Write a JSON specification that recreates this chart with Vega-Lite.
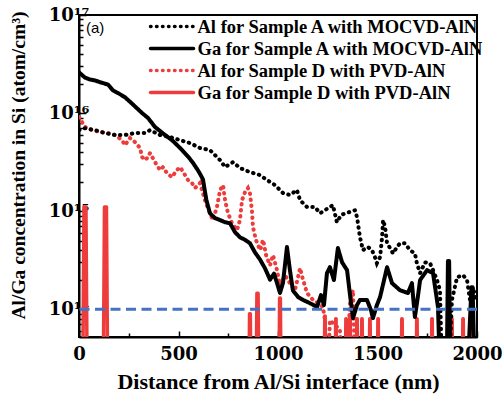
{
  "$schema": "https://vega.github.io/schema/vega-lite/v6.json",
  "width": 398,
  "height": 322,
  "autosize": {"type": "none"},
  "padding": {"left": 79, "top": 15, "right": 26, "bottom": 62},
  "background": "white",
  "config": {
    "view": {"stroke": "black", "strokeWidth": 2},
    "font": "Liberation Serif",
    "axis": {"grid": false, "domainColor": "black", "domainWidth": 2, "tickColor": "black", "tickWidth": 1.5, "labelColor": "black", "titleColor": "black", "labelFlush": false, "labelOverlap": false},
    "legend": {"title": null, "orient": "none", "legendX": 69.5, "legendY": -1, "padding": 0, "symbolType": "M-1,0H3.1", "symbolSize": 441, "symbolStrokeWidth": 3.5,
      "labelFont": "Liberation Serif", "labelFontSize": 18.5, "labelFontWeight": "bold", "labelColor": "black", "labelOffset": 24, "rowPadding": 0, "labelLimit": 0}
  },
  "datasets": {
    "profiles": [
      {"s": "AlA", "nm": 0, "c": 6.7e15}, {"s": "AlA", "nm": 30, "c": 7.0e15}, {"s": "AlA", "nm": 80, "c": 6.7e15}, {"s": "AlA", "nm": 131, "c": 6.25e15}, {"s": "AlA", "nm": 181, "c": 5.97e15}, {"s": "AlA", "nm": 231, "c": 5.97e15}, {"s": "AlA", "nm": 281, "c": 6.25e15}, {"s": "AlA", "nm": 332, "c": 6.25e15}, {"s": "AlA", "nm": 357, "c": 6.7e15}, {"s": "AlA", "nm": 407, "c": 5.97e15}, {"s": "AlA", "nm": 457, "c": 5.7e15}, {"s": "AlA", "nm": 508, "c": 5.3e15}, {"s": "AlA", "nm": 558, "c": 4.94e15}, {"s": "AlA", "nm": 608, "c": 4.4e15}, {"s": "AlA", "nm": 658, "c": 4.19e15}, {"s": "AlA", "nm": 709, "c": 3.31e15}, {"s": "AlA", "nm": 734, "c": 2.81e15}, {"s": "AlA", "nm": 774, "c": 3.16e15}, {"s": "AlA", "nm": 809, "c": 2.75e15}, {"s": "AlA", "nm": 859, "c": 2.5e15}, {"s": "AlA", "nm": 910, "c": 2.33e15}, {"s": "AlA", "nm": 945, "c": 2.07e15}, {"s": "AlA", "nm": 985, "c": 1.84e15}, {"s": "AlA", "nm": 1025, "c": 1.53e15}, {"s": "AlA", "nm": 1060, "c": 1.46e15}, {"s": "AlA", "nm": 1095, "c": 1.64e15}, {"s": "AlA", "nm": 1111, "c": 1.29e15}, {"s": "AlA", "nm": 1146, "c": 1.10e15}, {"s": "AlA", "nm": 1186, "c": 1.10e15}, {"s": "AlA", "nm": 1211, "c": 9.5e14}, {"s": "AlA", "nm": 1261, "c": 1.10e15}, {"s": "AlA", "nm": 1276, "c": 1.15e15}, {"s": "AlA", "nm": 1296, "c": 7.7e14}, {"s": "AlA", "nm": 1317, "c": 9.1e14}, {"s": "AlA", "nm": 1337, "c": 9.5e14}, {"s": "AlA", "nm": 1362, "c": 9.8e14}, {"s": "AlA", "nm": 1387, "c": 1.02e15}, {"s": "AlA", "nm": 1397, "c": 8.7e14}, {"s": "AlA", "nm": 1412, "c": 5.4e14}, {"s": "AlA", "nm": 1427, "c": 4.0e14}, {"s": "AlA", "nm": 1452, "c": 4.3e14}, {"s": "AlA", "nm": 1472, "c": 4.0e14}, {"s": "AlA", "nm": 1487, "c": 3.4e14}, {"s": "AlA", "nm": 1497, "c": 2.94e14}, {"s": "AlA", "nm": 1513, "c": 3.4e14}, {"s": "AlA", "nm": 1523, "c": 5.4e14}, {"s": "AlA", "nm": 1528, "c": 8.1e14}, {"s": "AlA", "nm": 1538, "c": 6.9e14}, {"s": "AlA", "nm": 1548, "c": 4.7e14}, {"s": "AlA", "nm": 1563, "c": 4.2e14}, {"s": "AlA", "nm": 1578, "c": 3.7e14}, {"s": "AlA", "nm": 1598, "c": 4.3e14}, {"s": "AlA", "nm": 1613, "c": 4.7e14}, {"s": "AlA", "nm": 1638, "c": 4.7e14}, {"s": "AlA", "nm": 1663, "c": 4.0e14}, {"s": "AlA", "nm": 1688, "c": 3.7e14}, {"s": "AlA", "nm": 1698, "c": 2.94e14}, {"s": "AlA", "nm": 1714, "c": 2.33e14}, {"s": "AlA", "nm": 1739, "c": 3.0e14}, {"s": "AlA", "nm": 1764, "c": 2.94e14}, {"s": "AlA", "nm": 1779, "c": 2.5e14}, {"s": "AlA", "nm": 1799, "c": 1.98e14}, {"s": "AlA", "nm": 1814, "c": 1.56e14}, {"s": "AlA", "nm": 1829, "c": 1e13}, {"s": "AlA", "nm": 1854, "c": 1e13}, {"s": "AlA", "nm": 1874, "c": 1.24e14}, {"s": "AlA", "nm": 1900, "c": 2.12e14}, {"s": "AlA", "nm": 1930, "c": 2.22e14}, {"s": "AlA", "nm": 1950, "c": 1.98e14}, {"s": "AlA", "nm": 1965, "c": 1.24e14}, {"s": "AlA", "nm": 1980, "c": 1.67e14}, {"s": "AlA", "nm": 1995, "c": 1.24e14},

      {"s": "GaA", "nm": 0, "c": 2.6e16}, {"s": "GaA", "nm": 30, "c": 2.3e16}, {"s": "GaA", "nm": 55, "c": 2.2e16}, {"s": "GaA", "nm": 80, "c": 2.15e16}, {"s": "GaA", "nm": 110, "c": 2.05e16}, {"s": "GaA", "nm": 146, "c": 1.95e16}, {"s": "GaA", "nm": 171, "c": 1.7e16}, {"s": "GaA", "nm": 196, "c": 1.6e16}, {"s": "GaA", "nm": 231, "c": 1.45e16}, {"s": "GaA", "nm": 266, "c": 1.25e16}, {"s": "GaA", "nm": 291, "c": 1.12e16}, {"s": "GaA", "nm": 317, "c": 1.0e16}, {"s": "GaA", "nm": 347, "c": 8.9e15}, {"s": "GaA", "nm": 382, "c": 7.2e15}, {"s": "GaA", "nm": 422, "c": 6.2e15}, {"s": "GaA", "nm": 467, "c": 5.3e15}, {"s": "GaA", "nm": 508, "c": 4.4e15}, {"s": "GaA", "nm": 548, "c": 3.6e15}, {"s": "GaA", "nm": 573, "c": 3.1e15}, {"s": "GaA", "nm": 598, "c": 2.6e15}, {"s": "GaA", "nm": 613, "c": 2.3e15}, {"s": "GaA", "nm": 623, "c": 2.1e15}, {"s": "GaA", "nm": 640, "c": 1.3e15}, {"s": "GaA", "nm": 658, "c": 9.5e14}, {"s": "GaA", "nm": 683, "c": 8.5e14}, {"s": "GaA", "nm": 709, "c": 8.1e14}, {"s": "GaA", "nm": 734, "c": 7.7e14}, {"s": "GaA", "nm": 759, "c": 7.5e14}, {"s": "GaA", "nm": 784, "c": 6.1e14}, {"s": "GaA", "nm": 809, "c": 5.4e14}, {"s": "GaA", "nm": 834, "c": 5.1e14}, {"s": "GaA", "nm": 859, "c": 4.7e14}, {"s": "GaA", "nm": 884, "c": 3.8e14}, {"s": "GaA", "nm": 910, "c": 3.2e14}, {"s": "GaA", "nm": 935, "c": 2.6e14}, {"s": "GaA", "nm": 960, "c": 2.0e14}, {"s": "GaA", "nm": 980, "c": 2.3e14}, {"s": "GaA", "nm": 995, "c": 1.85e14}, {"s": "GaA", "nm": 1010, "c": 1.46e14}, {"s": "GaA", "nm": 1025, "c": 1.85e14}, {"s": "GaA", "nm": 1045, "c": 4.3e14}, {"s": "GaA", "nm": 1060, "c": 2.5e14}, {"s": "GaA", "nm": 1075, "c": 1.55e14}, {"s": "GaA", "nm": 1101, "c": 1.33e14}, {"s": "GaA", "nm": 1126, "c": 1.24e14}, {"s": "GaA", "nm": 1161, "c": 1.15e14}, {"s": "GaA", "nm": 1196, "c": 1.05e14}, {"s": "GaA", "nm": 1216, "c": 1.39e14}, {"s": "GaA", "nm": 1231, "c": 1.10e14}, {"s": "GaA", "nm": 1246, "c": 2.33e14}, {"s": "GaA", "nm": 1261, "c": 2.68e14}, {"s": "GaA", "nm": 1281, "c": 1.98e14}, {"s": "GaA", "nm": 1301, "c": 4.2e14}, {"s": "GaA", "nm": 1322, "c": 3.0e14}, {"s": "GaA", "nm": 1347, "c": 2.5e14}, {"s": "GaA", "nm": 1362, "c": 1.39e14}, {"s": "GaA", "nm": 1377, "c": 8.1e13}, {"s": "GaA", "nm": 1397, "c": 1.10e14}, {"s": "GaA", "nm": 1412, "c": 1.24e14}, {"s": "GaA", "nm": 1447, "c": 1.24e14}, {"s": "GaA", "nm": 1467, "c": 9.8e13}, {"s": "GaA", "nm": 1477, "c": 8.1e13}, {"s": "GaA", "nm": 1497, "c": 1.10e14}, {"s": "GaA", "nm": 1513, "c": 1.33e14}, {"s": "GaA", "nm": 1533, "c": 1.98e14}, {"s": "GaA", "nm": 1548, "c": 2.68e14}, {"s": "GaA", "nm": 1573, "c": 1.84e14}, {"s": "GaA", "nm": 1613, "c": 1.56e14}, {"s": "GaA", "nm": 1653, "c": 1.46e14}, {"s": "GaA", "nm": 1673, "c": 1.84e14}, {"s": "GaA", "nm": 1688, "c": 8.3e13}, {"s": "GaA", "nm": 1704, "c": 1.39e14}, {"s": "GaA", "nm": 1714, "c": 1.98e14}, {"s": "GaA", "nm": 1749, "c": 2.5e14}, {"s": "GaA", "nm": 1779, "c": 2.33e14}, {"s": "GaA", "nm": 1804, "c": 1.05e14}, {"s": "GaA", "nm": 1819, "c": 1e13}, {"s": "GaA", "nm": 1846, "c": 1e13}, {"s": "GaA", "nm": 1854, "c": 3.1e14}, {"s": "GaA", "nm": 1860, "c": 3.1e14}, {"s": "GaA", "nm": 1868, "c": 1e13}, {"s": "GaA", "nm": 1945, "c": 1e13}, {"s": "GaA", "nm": 1972, "c": 1.67e14}, {"s": "GaA", "nm": 1978, "c": 1.67e14}, {"s": "GaA", "nm": 1992, "c": 1e13},

      {"s": "AlD", "nm": 0, "c": 9.1e15}, {"s": "AlD", "nm": 30, "c": 7.2e15}, {"s": "AlD", "nm": 65, "c": 6.7e15}, {"s": "AlD", "nm": 106, "c": 6.4e15}, {"s": "AlD", "nm": 146, "c": 6.25e15}, {"s": "AlD", "nm": 181, "c": 5.97e15}, {"s": "AlD", "nm": 216, "c": 5.3e15}, {"s": "AlD", "nm": 231, "c": 4.7e15}, {"s": "AlD", "nm": 256, "c": 5.56e15}, {"s": "AlD", "nm": 281, "c": 5.06e15}, {"s": "AlD", "nm": 307, "c": 4.4e15}, {"s": "AlD", "nm": 317, "c": 3.56e15}, {"s": "AlD", "nm": 332, "c": 3.31e15}, {"s": "AlD", "nm": 347, "c": 3.56e15}, {"s": "AlD", "nm": 357, "c": 3.91e15}, {"s": "AlD", "nm": 382, "c": 3.16e15}, {"s": "AlD", "nm": 407, "c": 2.62e15}, {"s": "AlD", "nm": 422, "c": 2.81e15}, {"s": "AlD", "nm": 442, "c": 2.44e15}, {"s": "AlD", "nm": 467, "c": 2.22e15}, {"s": "AlD", "nm": 492, "c": 2.62e15}, {"s": "AlD", "nm": 508, "c": 2.81e15}, {"s": "AlD", "nm": 533, "c": 2.33e15}, {"s": "AlD", "nm": 548, "c": 2.07e15}, {"s": "AlD", "nm": 568, "c": 1.93e15}, {"s": "AlD", "nm": 583, "c": 1.72e15}, {"s": "AlD", "nm": 608, "c": 1.93e15}, {"s": "AlD", "nm": 633, "c": 1.29e15}, {"s": "AlD", "nm": 658, "c": 9.5e14}, {"s": "AlD", "nm": 673, "c": 8.1e14}, {"s": "AlD", "nm": 693, "c": 1.10e15}, {"s": "AlD", "nm": 709, "c": 1.64e15}, {"s": "AlD", "nm": 724, "c": 1.84e15}, {"s": "AlD", "nm": 734, "c": 1.29e15}, {"s": "AlD", "nm": 749, "c": 9.5e14}, {"s": "AlD", "nm": 769, "c": 7.5e14}, {"s": "AlD", "nm": 794, "c": 6.4e14}, {"s": "AlD", "nm": 809, "c": 8.1e14}, {"s": "AlD", "nm": 819, "c": 1.29e15}, {"s": "AlD", "nm": 834, "c": 1.56e15}, {"s": "AlD", "nm": 849, "c": 1.72e15}, {"s": "AlD", "nm": 859, "c": 1.53e15}, {"s": "AlD", "nm": 869, "c": 1.02e15}, {"s": "AlD", "nm": 874, "c": 6.9e14}, {"s": "AlD", "nm": 889, "c": 5.1e14}, {"s": "AlD", "nm": 910, "c": 4.0e14}, {"s": "AlD", "nm": 925, "c": 5.1e14}, {"s": "AlD", "nm": 940, "c": 3.56e14}, {"s": "AlD", "nm": 960, "c": 2.8e14}, {"s": "AlD", "nm": 975, "c": 3.56e14}, {"s": "AlD", "nm": 995, "c": 2.5e14}, {"s": "AlD", "nm": 1010, "c": 1.76e14}, {"s": "AlD", "nm": 1035, "c": 2.22e14}, {"s": "AlD", "nm": 1060, "c": 1.84e14}, {"s": "AlD", "nm": 1085, "c": 1.56e14}, {"s": "AlD", "nm": 1111, "c": 2.62e14}, {"s": "AlD", "nm": 1126, "c": 1.98e14}, {"s": "AlD", "nm": 1146, "c": 1.46e14}, {"s": "AlD", "nm": 1176, "c": 1.24e14}, {"s": "AlD", "nm": 1201, "c": 1.15e14}, {"s": "AlD", "nm": 1226, "c": 1.05e14}, {"s": "AlD", "nm": 1236, "c": 7.7e13}, {"s": "AlD", "nm": 1246, "c": 1e13}, {"s": "AlD", "nm": 1261, "c": 7.7e13}, {"s": "AlD", "nm": 1286, "c": 6.9e13}, {"s": "AlD", "nm": 1311, "c": 6.2e13}, {"s": "AlD", "nm": 1337, "c": 1e13}, {"s": "AlD", "nm": 1362, "c": 1.24e14}, {"s": "AlD", "nm": 1377, "c": 1.56e14}, {"s": "AlD", "nm": 1392, "c": 1e13}, {"s": "AlD", "nm": 2000, "c": 1e13},

      {"s": "GaD", "nm": 18, "c": 1e13}, {"s": "GaD", "nm": 25, "c": 1.1e15}, {"s": "GaD", "nm": 35, "c": 1.1e15}, {"s": "GaD", "nm": 42, "c": 1e13},
      {"s": "GaD", "nm": 121, "c": 1e13}, {"s": "GaD", "nm": 128, "c": 1.1e15}, {"s": "GaD", "nm": 138, "c": 1.1e15}, {"s": "GaD", "nm": 145, "c": 1e13},
      {"s": "GaD", "nm": 853, "c": 1e13}, {"s": "GaD", "nm": 857, "c": 9e13}, {"s": "GaD", "nm": 861, "c": 9e13}, {"s": "GaD", "nm": 865, "c": 1e13},
      {"s": "GaD", "nm": 889, "c": 1e13}, {"s": "GaD", "nm": 894, "c": 1.45e14}, {"s": "GaD", "nm": 900, "c": 1.45e14}, {"s": "GaD", "nm": 905, "c": 1e13},
      {"s": "GaD", "nm": 1004, "c": 1e13}, {"s": "GaD", "nm": 1008, "c": 1.3e14}, {"s": "GaD", "nm": 1012, "c": 1.3e14}, {"s": "GaD", "nm": 1016, "c": 1e13},
      {"s": "GaD", "nm": 1231, "c": 1e13}, {"s": "GaD", "nm": 1235, "c": 8.5e13}, {"s": "GaD", "nm": 1237, "c": 8.5e13}, {"s": "GaD", "nm": 1241, "c": 1e13},
      {"s": "GaD", "nm": 1286, "c": 1e13}, {"s": "GaD", "nm": 1290, "c": 8e13}, {"s": "GaD", "nm": 1292, "c": 8e13}, {"s": "GaD", "nm": 1296, "c": 1e13},
      {"s": "GaD", "nm": 1337, "c": 1e13}, {"s": "GaD", "nm": 1341, "c": 8e13}, {"s": "GaD", "nm": 1343, "c": 8e13}, {"s": "GaD", "nm": 1347, "c": 1e13},
      {"s": "GaD", "nm": 1357, "c": 1e13}, {"s": "GaD", "nm": 1361, "c": 8.8e13}, {"s": "GaD", "nm": 1363, "c": 8.8e13}, {"s": "GaD", "nm": 1367, "c": 1e13},
      {"s": "GaD", "nm": 1392, "c": 1e13}, {"s": "GaD", "nm": 1396, "c": 8e13}, {"s": "GaD", "nm": 1398, "c": 8e13}, {"s": "GaD", "nm": 1402, "c": 1e13},
      {"s": "GaD", "nm": 1417, "c": 1e13}, {"s": "GaD", "nm": 1421, "c": 8e13}, {"s": "GaD", "nm": 1423, "c": 8e13}, {"s": "GaD", "nm": 1427, "c": 1e13},
      {"s": "GaD", "nm": 1457, "c": 1e13}, {"s": "GaD", "nm": 1461, "c": 8e13}, {"s": "GaD", "nm": 1463, "c": 8e13}, {"s": "GaD", "nm": 1467, "c": 1e13},
      {"s": "GaD", "nm": 1498, "c": 1e13}, {"s": "GaD", "nm": 1502, "c": 8e13}, {"s": "GaD", "nm": 1504, "c": 8e13}, {"s": "GaD", "nm": 1508, "c": 1e13},
      {"s": "GaD", "nm": 1618, "c": 1e13}, {"s": "GaD", "nm": 1622, "c": 8e13}, {"s": "GaD", "nm": 1624, "c": 8e13}, {"s": "GaD", "nm": 1628, "c": 1e13},
      {"s": "GaD", "nm": 1693, "c": 1e13}, {"s": "GaD", "nm": 1697, "c": 8e13}, {"s": "GaD", "nm": 1699, "c": 8e13}, {"s": "GaD", "nm": 1703, "c": 1e13},
      {"s": "GaD", "nm": 1769, "c": 1e13}, {"s": "GaD", "nm": 1773, "c": 8e13}, {"s": "GaD", "nm": 1775, "c": 8e13}, {"s": "GaD", "nm": 1779, "c": 1e13},
      {"s": "GaD", "nm": 1869, "c": 1e13}, {"s": "GaD", "nm": 1873, "c": 8e13}, {"s": "GaD", "nm": 1875, "c": 8e13}, {"s": "GaD", "nm": 1879, "c": 1e13},
      {"s": "GaD", "nm": 1925, "c": 1e13}, {"s": "GaD", "nm": 1929, "c": 8e13}, {"s": "GaD", "nm": 1931, "c": 8e13}, {"s": "GaD", "nm": 1935, "c": 1e13},
      {"s": "GaD", "nm": 1960, "c": 1e13}, {"s": "GaD", "nm": 1964, "c": 8e13}, {"s": "GaD", "nm": 1966, "c": 8e13}, {"s": "GaD", "nm": 1970, "c": 1e13}
    ]
  },
  "layer": [
    {
      "data": {"name": "profiles"},
      "transform": [{"filter": "datum.s == 'AlD'"}],
      "mark": {"type": "line", "strokeWidth": 4, "strokeCap": "round", "clip": true},
      "encoding": {
        "x": {"field": "nm", "type": "quantitative", "scale": {"domain": [0, 2000], "nice": false},
          "axis": {"title": "Distance from Al/Si interface (nm)", "values": [0, 250, 500, 750, 1000, 1250, 1500, 1750, 2000], "format": "d",
            "labelExpr": "datum.value % 500 == 0 ? datum.label : ''",
            "labelFont": "DejaVu Serif", "labelFontSize": 18, "labelFontWeight": "bold", "labelPadding": 14,
            "tickSize": {"condition": {"test": "datum.value % 500 == 0", "value": -6}, "value": -4},
            "titleFont": "Liberation Serif", "titleFontSize": 22, "titleFontWeight": "bold", "titlePadding": 6}},
        "y": {"field": "c", "type": "quantitative", "scale": {"type": "log", "domain": [5.2e13, 1e17], "nice": false},
          "axis": {"title": "Al/Ga concentration in Si (atom/cm³)",
            "values": [6e13, 7e13, 8e13, 9e13, 1e14, 2e14, 3e14, 4e14, 5e14, 6e14, 7e14, 8e14, 9e14, 1e15, 2e15, 3e15, 4e15, 5e15, 6e15, 7e15, 8e15, 9e15, 1e16, 2e16, 3e16, 4e16, 5e16, 6e16, 7e16, 8e16, 9e16, 1e17],
            "labelExpr": "abs(log(datum.value)/LN10 - round(log(datum.value)/LN10)) < 0.001 ? '10' + (round(log(datum.value)/LN10) == 14 ? '¹⁴' : round(log(datum.value)/LN10) == 15 ? '¹⁵' : round(log(datum.value)/LN10) == 16 ? '¹⁶' : '¹⁷') : ''",
            "labelFont": "DejaVu Serif", "labelFontSize": 18, "labelFontWeight": "bold", "labelPadding": -3,
            "tickSize": {"condition": {"test": "abs(log(datum.value)/LN10 - round(log(datum.value)/LN10)) < 0.001", "value": -7}, "value": -4},
            "titleFont": "Liberation Serif", "titleFontSize": 19.5, "titleFontWeight": "bold", "titleX": -61, "titleY": 150, "titleBaseline": "middle", "titleAlign": "center"}},
        "color": {"field": "s", "type": "nominal",
          "scale": {"domain": ["AlA", "GaA", "AlD", "GaD"], "range": ["#000000", "#000000", "#ee3b3b", "#ee3b3b"]},
          "legend": {"encode": {"symbols": {"update": {"strokeCap": {"value": "round"}}}},
            "labelExpr": "datum.label == 'AlA' ? 'Al for Sample A with MOCVD-AlN' : datum.label == 'GaA' ? 'Ga for Sample A with MOCVD-AlN' : datum.label == 'AlD' ? 'Al for Sample D with PVD-AlN' : 'Ga for Sample D with PVD-AlN'"}},
        "strokeDash": {"field": "s", "type": "nominal",
          "scale": {"domain": ["AlA", "GaA", "AlD", "GaD"], "range": [[0.5, 5.5], [1, 0], [0.5, 5.5], [1, 0]]},
          "legend": {"encode": {"symbols": {"update": {"strokeCap": {"value": "round"}}}},
            "labelExpr": "datum.label == 'AlA' ? 'Al for Sample A with MOCVD-AlN' : datum.label == 'GaA' ? 'Ga for Sample A with MOCVD-AlN' : datum.label == 'AlD' ? 'Al for Sample D with PVD-AlN' : 'Ga for Sample D with PVD-AlN'"}}
      }
    },
    {
      "data": {"name": "profiles"},
      "transform": [{"filter": "datum.s == 'GaD'"}],
      "mark": {"type": "line", "strokeWidth": 3.5, "strokeCap": "round", "strokeJoin": "round", "clip": true},
      "encoding": {
        "x": {"field": "nm", "type": "quantitative"},
        "y": {"field": "c", "type": "quantitative"},
        "color": {"field": "s", "type": "nominal"},
        "strokeDash": {"field": "s", "type": "nominal"}
      }
    },
    {
      "data": {"name": "profiles"},
      "transform": [{"filter": "datum.s == 'AlA'"}],
      "mark": {"type": "line", "strokeWidth": 4, "strokeCap": "round", "clip": true},
      "encoding": {
        "x": {"field": "nm", "type": "quantitative"},
        "y": {"field": "c", "type": "quantitative"},
        "color": {"field": "s", "type": "nominal"},
        "strokeDash": {"field": "s", "type": "nominal"}
      }
    },
    {
      "data": {"name": "profiles"},
      "transform": [{"filter": "datum.s == 'GaA'"}],
      "mark": {"type": "line", "strokeWidth": 4, "strokeCap": "round", "strokeJoin": "round", "clip": true},
      "encoding": {
        "x": {"field": "nm", "type": "quantitative"},
        "y": {"field": "c", "type": "quantitative"},
        "color": {"field": "s", "type": "nominal"},
        "strokeDash": {"field": "s", "type": "nominal"}
      }
    },
    {
      "data": {"values": [{"k": 1}]},
      "mark": {"type": "rule", "color": "#4472c4", "strokeWidth": 3, "strokeDash": [10, 5.5]},
      "encoding": {"y": {"datum": 1e14}}
    },
    {
      "data": {"values": [{"label": "(a)"}]},
      "mark": {"type": "text", "font": "Liberation Sans", "fontSize": 15, "align": "left", "baseline": "middle", "color": "black"},
      "encoding": {"x": {"datum": 35}, "y": {"datum": 7.4e16}, "text": {"field": "label"}}
    }
  ]
}
